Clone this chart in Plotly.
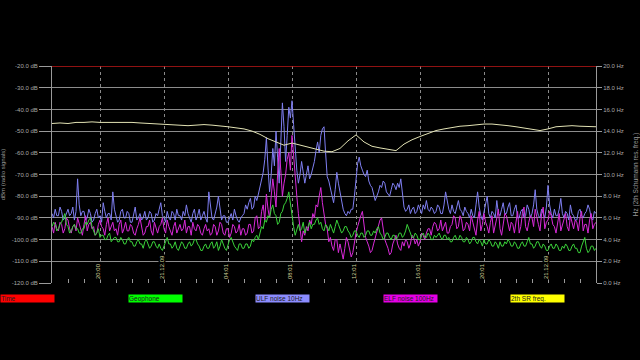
import numpy as np
import plotly.graph_objects as go

# ---------------- data ----------------
# samples every 0.1 h, hours since ~17:00 on 20.12.09
ulf_10hz = [
    -88, -90, -86, -89, -89, -85, -87, -91, -90, -88,
    -86, -89, -88, -85, -91, -87, -72, -84, -89, -87,
    -87, -91, -90, -86, -88, -92, -91, -88, -86, -90,
    -89, -92, -83, -87, -90, -88, -88, -91, -78, -86,
    -89, -92, -91, -87, -86, -90, -90, -87, -88, -92,
    -92, -89, -85, -91, -90, -88, -91, -90, -87, -91,
    -90, -87, -88, -92, -91, -88, -89, -86, -83, -89,
    -90, -92, -87, -90, -91, -87, -88, -91, -86, -89,
    -89, -91, -87, -89, -84, -88, -90, -92, -88, -86,
    -91, -89, -86, -91, -89, -87, -90, -92, -78, -85,
    -90, -91, -88, -85, -80, -87, -91, -89, -89, -92,
    -92, -90, -88, -91, -86, -89, -91, -92, -90, -89,
    -88, -84, -86, -83, -81, -86, -85, -80, -82, -79,
    -76, -72, -69, -63, -53, -67, -78, -70, -58, -66,
    -50, -62, -74, -55, -37, -48, -64, -52, -39, -44,
    -36, -47, -60, -68, -74, -70, -64, -69, -74, -70,
    -66, -72, -70, -67, -64, -59, -55, -60, -52, -49,
    -48, -60, -71, -73, -76, -80, -83, -77, -69, -74,
    -78, -83, -86, -88, -89, -87, -88, -86, -86, -80,
    -72, -65, -62, -66, -68, -70, -71, -68, -73, -75,
    -76, -79, -82, -80, -78, -75, -76, -73, -74, -78,
    -79, -80, -77, -74, -75, -77, -74, -76, -72, -80,
    -85, -87, -86, -84, -88, -86, -85, -88, -87, -84,
    -86, -88, -84, -86, -82, -86, -87, -85, -86, -88,
    -87, -84, -85, -88, -88, -84, -78, -83, -86, -88,
    -84, -87, -88, -85, -82, -86, -87, -89, -85, -87,
    -88, -90, -86, -89, -90, -84, -78, -85, -89, -91,
    -87, -84, -80, -88, -90, -87, -88, -90, -82, -88,
    -89, -86, -83, -88, -88, -85, -83, -89, -89, -86,
    -84, -90, -90, -87, -86, -90, -89, -84, -86, -90,
    -88, -84, -77, -86, -89, -90, -86, -88, -90, -85,
    -75, -84, -88, -90, -86, -89, -89, -86, -81, -88,
    -90, -87, -88, -91, -84, -88, -89, -91, -91, -87,
    -86, -89, -90, -88, -87, -84, -86, -90, -91, -87,
    -88,
]

elf_100hz = [
    -94, -97, -92, -95, -96, -92, -93, -97, -95, -90,
    -91, -95, -97, -94, -93, -96, -90, -93, -95, -98,
    -93, -89, -96, -93, -92, -95, -94, -98, -97, -93,
    -91, -94, -95, -98, -93, -90, -96, -94, -92, -96,
    -95, -98, -93, -91, -97, -95, -92, -96, -96, -93,
    -94, -97, -98, -95, -93, -90, -95, -98, -97, -94,
    -94, -91, -96, -98, -92, -95, -97, -94, -93, -90,
    -95, -97, -91, -94, -96, -98, -94, -92, -97, -95,
    -93, -96, -95, -91, -97, -94, -94, -98, -92, -95,
    -96, -93, -94, -97, -98, -95, -93, -96, -95, -98,
    -97, -93, -94, -98, -96, -92, -93, -97, -98, -95,
    -95, -99, -97, -93, -94, -97, -96, -93, -98, -95,
    -95, -98, -97, -93, -93, -97, -96, -90, -89, -95,
    -94, -87, -84, -91, -79, -86, -90, -80, -72, -78,
    -85, -70, -58, -68, -80, -74, -70, -63, -60, -68,
    -52, -61, -72, -80, -88, -95, -101, -96, -98, -94,
    -96, -91, -93, -88, -90, -84, -85, -80, -76, -83,
    -89, -93, -95, -101, -99, -103, -105, -100, -100, -106,
    -102, -106, -109, -104, -99, -101, -104, -108, -106, -101,
    -97, -94, -91, -89, -87, -93, -99, -101, -103, -106,
    -105, -102, -99, -96, -93, -91, -90, -95, -100, -102,
    -104, -107, -106, -102, -100, -98, -102, -104, -105, -101,
    -103, -100, -101, -104, -102, -98, -99, -102, -100, -103,
    -101, -97, -98, -100, -97, -95, -95, -98, -94, -92,
    -93, -96, -95, -91, -96, -94, -92, -97, -97, -94,
    -93, -89, -90, -95, -94, -89, -91, -96, -95, -92,
    -93, -96, -89, -92, -95, -98, -91, -87, -96, -93,
    -88, -92, -94, -97, -92, -89, -97, -94, -90, -86,
    -95, -98, -92, -88, -89, -93, -96, -92, -93, -97,
    -91, -87, -97, -94, -88, -85, -94, -96, -92, -89,
    -90, -94, -86, -90, -93, -96, -88, -85, -95, -92,
    -91, -87, -89, -93, -94, -97, -92, -88, -96, -93,
    -91, -88, -94, -96, -89, -92, -95, -91, -92, -96,
    -90, -87, -96, -93, -93, -97, -91, -88, -95, -93,
    -92,
]

geophone = [
    -94, -92, -93, -96, -95, -93, -92, -90, -88, -93,
    -94, -97, -96, -94, -93, -95, -95, -97, -97, -95,
    -95, -92, -93, -91, -90, -94, -96, -98, -97, -95,
    -99, -98, -98, -100, -100, -98, -97, -101, -100, -99,
    -99, -101, -101, -99, -100, -102, -102, -100, -99, -101,
    -101, -103, -103, -101, -100, -102, -102, -104, -101, -100,
    -102, -104, -103, -101, -101, -103, -104, -102, -104, -105,
    -103, -101, -99, -102, -102, -104, -103, -101, -104, -105,
    -103, -101, -102, -104, -104, -102, -101, -103, -102, -100,
    -100, -102, -103, -105, -105, -103, -102, -104, -104, -102,
    -101, -104, -103, -101, -105, -103, -100, -102, -104, -105,
    -102, -100, -99, -101, -103, -104, -105, -102, -102, -104,
    -104, -102, -102, -104, -103, -100, -101, -99, -98, -100,
    -97, -94, -95, -91, -92, -89, -90, -86, -84, -88,
    -89, -93, -92, -88, -87, -84, -83, -81, -78, -84,
    -88, -94, -98, -95, -93, -96, -95, -92, -97, -95,
    -94, -92, -95, -93, -93, -91, -90, -93, -92, -95,
    -96, -93, -94, -96, -93, -95, -97, -94, -91, -93,
    -95, -97, -96, -94, -94, -96, -97, -99, -98, -96,
    -96, -98, -99, -97, -97, -99, -98, -96, -96, -98,
    -98, -96, -97, -95, -94, -97, -98, -100, -99, -97,
    -97, -99, -100, -98, -98, -100, -99, -97, -97, -99,
    -98, -96, -93, -95, -97, -99, -99, -97, -98, -100,
    -100, -98, -97, -99, -99, -97, -98, -100, -100, -98,
    -99, -98, -97, -99, -100, -98, -98, -100, -99, -101,
    -101, -99, -98, -100, -100, -98, -99, -101, -101, -99,
    -100, -102, -101, -99, -99, -101, -102, -100, -101, -103,
    -100, -102, -102, -100, -101, -103, -103, -101, -102, -104,
    -101, -103, -103, -101, -102, -100, -101, -103, -103, -101,
    -102, -104, -104, -102, -101, -103, -103, -101, -99, -102,
    -102, -104, -103, -101, -101, -103, -104, -102, -103, -105,
    -105, -103, -102, -104, -104, -102, -103, -105, -105, -103,
    -104, -102, -103, -105, -105, -103, -102, -104, -104, -106,
    -106, -103, -101, -99, -104, -106, -105, -103, -103, -105,
    -104,
]

sr2_freq = [   # every 0.5 h
    14.7, 14.75, 14.7, 14.8, 14.8, 14.85, 14.8, 14.8, 14.85, 14.8,
    14.8, 14.75, 14.7, 14.7, 14.6, 14.6, 14.55, 14.5, 14.55, 14.6,
    14.55, 14.5, 14.4, 14.3, 14.2, 14.0, 13.7, 13.3, 13.0, 12.7,
    12.9, 12.7, 12.5, 12.3, 12.15, 12.1, 12.4, 13.1, 13.65, 13.0,
    12.6, 12.45, 12.35, 12.2, 12.8, 13.2, 13.5, 13.8, 14.05, 14.2,
    14.35, 14.45, 14.5, 14.6, 14.65, 14.65, 14.6, 14.5, 14.4, 14.3,
    14.2, 14.05, 14.2, 14.4, 14.45, 14.5, 14.45, 14.4, 14.4,
]

time_hours = [0, 34]
time_level = [-20, -20]

x_tick_vals = [3, 7, 11, 15, 19, 23, 27, 31]
x_tick_text = ["20:00", "21.12.09", "04:01", "08:01", "12:01", "16:01", "20:01", "21.12.09"]
db_ticks = [-120, -110, -100, -90, -80, -70, -60, -50, -40, -30, -20]
hz_ticks = [0, 2, 4, 6, 8, 10, 12, 14, 16, 18, 20]

legend_names = ["Time", "Geophone", "ULF noise 10Hz", "ELF noise 100Hz", "2th SR freq."]
legend_colors = ["#ff0000", "#00ff00", "#8c8cff", "#e600e6", "#ffff00"]


def sample_hours(values, step):
    return np.round(np.arange(len(values)) * step, 2)


# ---------------- figure ----------------
FONT = "Liberation Sans"
fig = go.Figure()
fig.add_trace(go.Scatter(x=sample_hours(ulf_10hz, 0.1), y=ulf_10hz, mode="lines",
                         line=dict(color="#7f7ff2", width=1), name="ULF noise 10Hz"))
fig.add_trace(go.Scatter(x=sample_hours(elf_100hz, 0.1), y=elf_100hz, mode="lines",
                         line=dict(color="#d82ad8", width=1), name="ELF noise 100Hz"))
fig.add_trace(go.Scatter(x=sample_hours(geophone, 0.1), y=geophone, mode="lines",
                         line=dict(color="#3ad23a", width=1), name="Geophone"))
fig.add_trace(go.Scatter(x=sample_hours(sr2_freq, 0.5), y=sr2_freq, mode="lines",
                         line=dict(color="#e2e2b4", width=1), name="2th SR freq.", yaxis="y2"))
fig.add_trace(go.Scatter(x=time_hours, y=time_level, mode="lines",
                         line=dict(color="#c01818", width=1.5), name="Time"))

axis_gray = "#9a9a9a"
fig.update_layout(
    width=640, height=360,
    margin=dict(l=52, r=44, t=66, b=77),
    paper_bgcolor="black", plot_bgcolor="black",
    showlegend=False,
    font=dict(family=FONT, size=6, color="#a8a8a8"),
    xaxis=dict(
        range=[0, 34], tickmode="array", tickvals=x_tick_vals, ticktext=x_tick_text,
        showticklabels=False,
        ticks="inside", ticklen=4, tickcolor=axis_gray,
        showgrid=True, gridcolor="#8a8a8a", griddash="dot", gridwidth=1,
        minor=dict(tickmode="linear", tick0=0, dtick=1, ticks="inside", ticklen=4,
                   tickcolor=axis_gray, showgrid=False),
        zeroline=False, showline=False, automargin=False,
    ),
    yaxis=dict(
        range=[-120, -20], tickmode="array", tickvals=db_ticks,
        ticktext=[f"{v:.1f} dB" for v in db_ticks],
        ticks="outside", ticklen=12, tickcolor=axis_gray,
        showgrid=True, gridcolor="#8c8c8c", gridwidth=1,
        showline=True, linecolor=axis_gray, zeroline=False, automargin=False,
        tickfont=dict(family=FONT, size=6, color="#a8a8a8"),
        title=dict(text="dBm (radio signals)", font=dict(family=FONT, size=6, color="#9a9a9a")),
    ),
    yaxis2=dict(
        range=[0, 20], overlaying="y", side="right", tickmode="array", tickvals=hz_ticks,
        ticktext=[f"{v:.1f} Hz" for v in hz_ticks],
        ticks="outside", ticklen=5, tickcolor=axis_gray,
        showgrid=False, showline=True, linecolor=axis_gray, zeroline=False, automargin=False,
        tickfont=dict(family=FONT, size=6, color="#a8a8a8"),
        title=dict(text="Hz (2th Schumann res. freq.)", font=dict(family=FONT, size=6.5, color="#9a9a9a")),
    ),
)

plot_w = 640 - 52 - 44
plot_h = 360 - 66 - 77

# time tick labels drawn vertically inside the bottom of the plot
for xv, txt in zip(x_tick_vals, x_tick_text):
    fig.add_annotation(
        x=xv, y=(283 - 280) / plot_h, xref="x", yref="paper", xshift=-2,
        xanchor="center", yanchor="bottom", text=txt, textangle=-90, showarrow=False,
        font=dict(family=FONT, size=6, color="#d2d29a"), bgcolor="black", borderpad=0,
    )

# legend boxes under the plot
box_left_px = [0, 128, 255, 383, 510]
for name, col, px in zip(legend_names, legend_colors, box_left_px):
    fig.add_annotation(
        x=(px - 52) / plot_w, y=(283 - 298.5) / plot_h, xref="paper", yref="paper",
        xanchor="left", yanchor="middle", text=name, showarrow=False,
        width=53, height=7, align="left", bgcolor=col, borderpad=0,
        font=dict(family=FONT, size=6.5, color="#202020"),
    )

fig.write_html("out.html")
